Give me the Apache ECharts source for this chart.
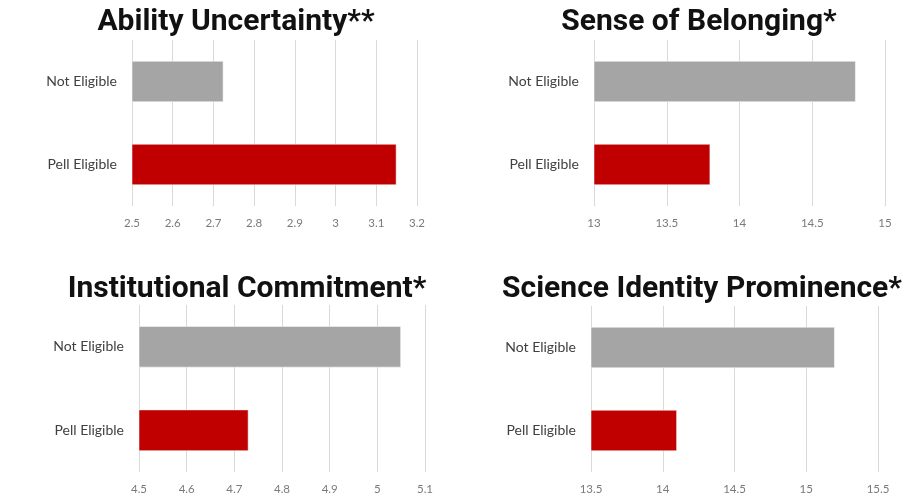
<!DOCTYPE html>
<html>
<head>
<meta charset="utf-8">
<script src="https://cdn.jsdelivr.net/npm/echarts@6/dist/echarts.min.js"></script>
<style>
  html, body { margin: 0; padding: 0; background: #fff; }
  #chart { width: 916px; height: 495px; }
</style>
</head>
<body>
<div id="chart"></div>
<script>
// categories, bottom to top on each panel
const categories = ['Pell Eligible', 'Not Eligible']

const panelTitles = [
  'Ability Uncertainty**',
  'Sense of Belonging*',
  'Institutional Commitment*',
  'Science Identity Prominence*'
]

const abilityUncertainty = [3.15, 2.725]
const senseOfBelonging = [13.8, 14.8]
const institutionalCommitment = [4.73, 5.05]
const scienceIdentity = [14.1, 15.2]

// axis ranges: [min, max, interval]
const abilityRange = [2.5, 3.2, 0.1]
const belongingRange = [13, 15, 0.5]
const commitmentRange = [4.5, 5.1, 0.1]
const identityRange = [13.5, 15.5, 0.5]

const panels = [
  { values: abilityUncertainty, range: abilityRange, grid: { left: 132, top: 40, width: 285, height: 166 }, titleX: 231, titleY: 2 },
  { values: senseOfBelonging, range: belongingRange, grid: { left: 594, top: 40, width: 291, height: 166 }, titleX: 694, titleY: 2 },
  { values: institutionalCommitment, range: commitmentRange, grid: { left: 139, top: 305, width: 286, height: 167 }, titleX: 242, titleY: 269 },
  { values: scienceIdentity, range: identityRange, grid: { left: 591, top: 306, width: 287, height: 168 }, titleX: 697, titleY: 269 }
]

const barColors = { 'Pell Eligible': '#C00000', 'Not Eligible': '#A5A5A5' }

const chart = echarts.init(document.getElementById('chart'))

const option = {
  backgroundColor: '#fff',
  animation: false,
  title: panels.map((p, i) => ({
    text: panelTitles[i],
    left: p.titleX,
    top: p.titleY,
    textAlign: 'center',
    textStyle: { fontFamily: 'Roboto', fontWeight: 'bold', fontSize: 30, color: '#111' }
  })),
  grid: panels.map((p) => ({ ...p.grid, containLabel: false })),
  xAxis: panels.map((p, i) => ({
    type: 'value',
    gridIndex: i,
    min: p.range[0],
    max: p.range[1],
    interval: p.range[2],
    axisLine: { show: false },
    axisTick: { show: false },
    axisLabel: { color: '#7a7a7a', fontFamily: 'Lato', fontSize: 11.5, margin: 11 },
    splitLine: { lineStyle: { color: '#D9D9D9', width: 1 } }
  })),
  yAxis: panels.map((p, i) => ({
    type: 'category',
    gridIndex: i,
    data: categories,
    axisLine: { show: false },
    axisTick: { show: false },
    axisLabel: { color: '#404040', fontFamily: 'Lato', fontSize: 14, margin: 15 }
  })),
  series: panels.map((p, i) => ({
    type: 'bar',
    xAxisIndex: i,
    yAxisIndex: i,
    barWidth: '50%',
    data: p.values.map((v, j) => ({
      value: v,
      itemStyle: { color: barColors[categories[j]], borderColor: 'rgba(255,255,255,0.5)', borderWidth: 1 }
    }))
  }))
}

chart.setOption(option)
</script>
</body>
</html>
